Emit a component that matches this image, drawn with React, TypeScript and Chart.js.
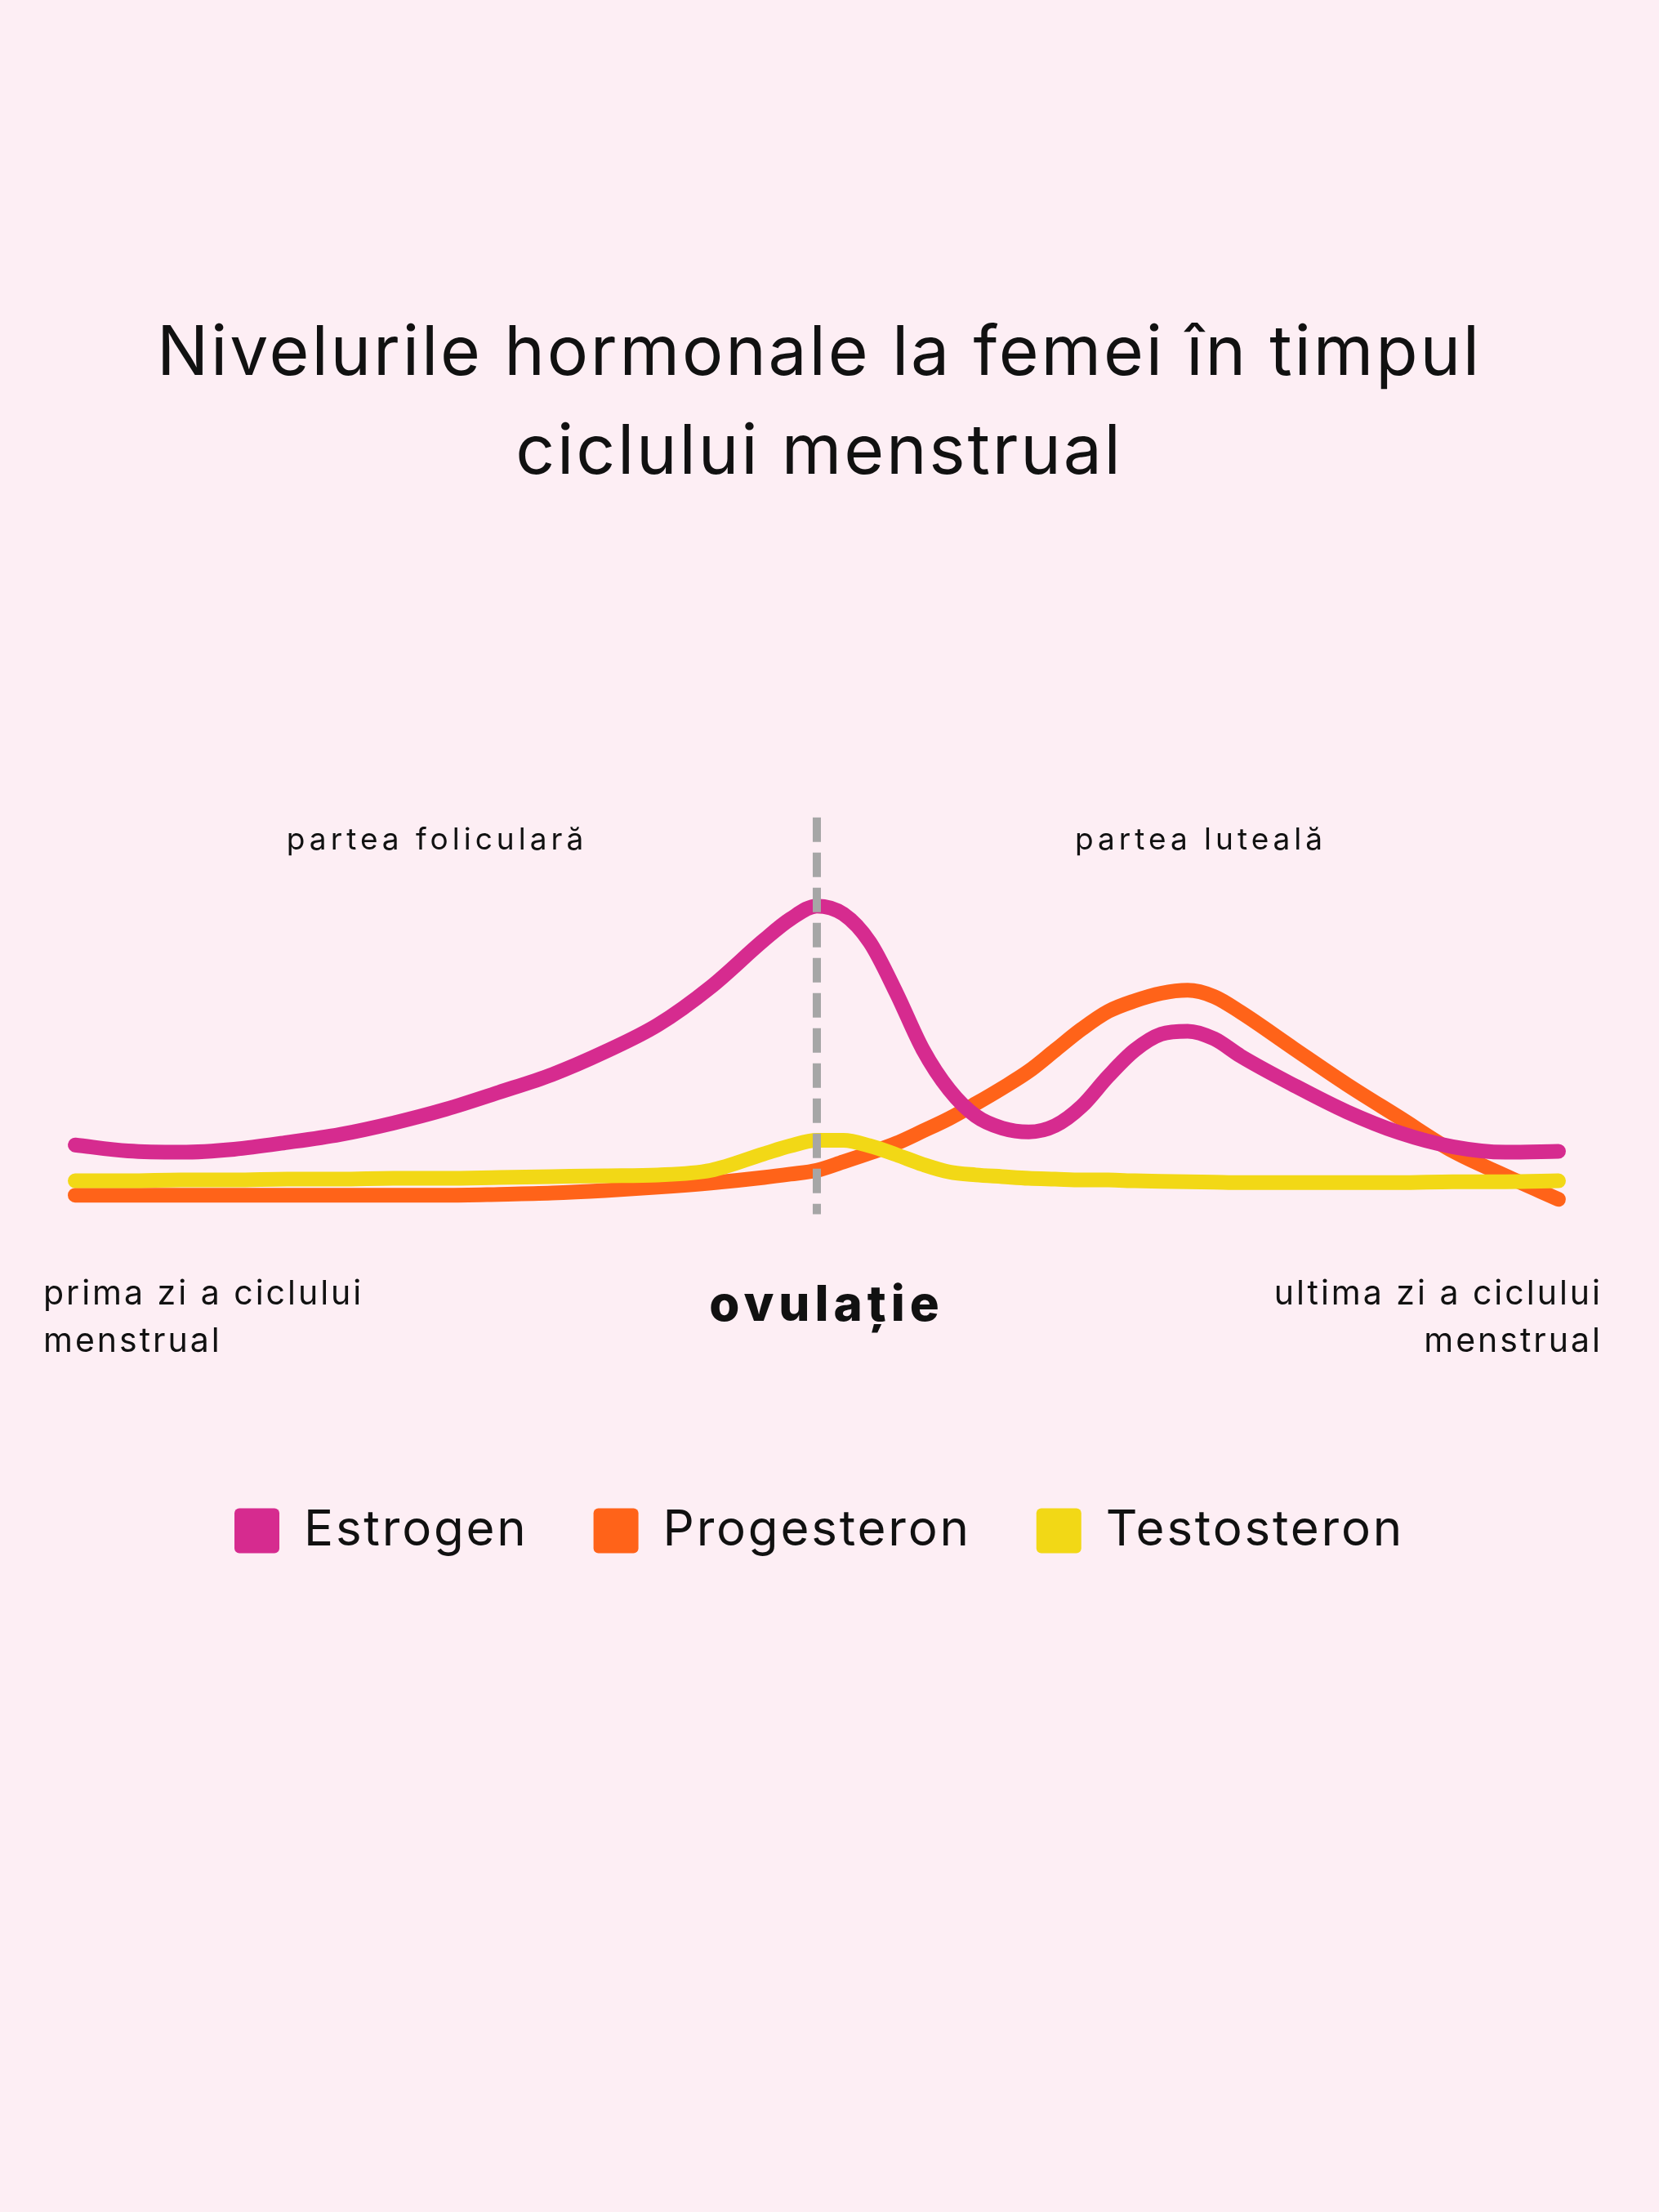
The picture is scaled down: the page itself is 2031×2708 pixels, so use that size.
import React, { useEffect, useRef } from 'react';
import { Chart, registerables } from 'chart.js';

Chart.register(...registerables);

// ---- data ----
const days = [0, 1, 2, 3, 4, 5, 6, 7, 8, 9, 10, 11, 12, 13, 13.5, 14, 14.5, 15, 15.5, 16, 16.5, 17, 17.5, 18, 18.5, 19, 19.5, 20, 20.5, 21, 21.5, 22, 23, 24, 25, 26, 27, 28];
const estrogen = [20.2, 18.8, 18.5, 19.2, 20.8, 22.7, 25.4, 28.7, 32.7, 36.9, 42.3, 48.7, 57.7, 68.8, 73.8, 76.9, 75.0, 68.3, 56.3, 42.9, 33.3, 27.1, 24.2, 23.3, 24.8, 29.4, 36.5, 42.7, 46.5, 47.2, 45.4, 41.3, 34.4, 28.1, 23.1, 19.8, 18.5, 18.7];
const progesteron = [8.3, 8.3, 8.3, 8.3, 8.3, 8.3, 8.3, 8.3, 8.5, 8.8, 9.4, 10.2, 11.2, 12.5, 13.3, 14.2, 16.2, 18.3, 20.6, 23.5, 26.5, 30.0, 33.7, 37.7, 42.7, 47.7, 51.9, 54.4, 56.2, 56.9, 55.4, 51.7, 43.1, 34.6, 26.7, 18.8, 12.9, 7.3];
const testosteron = [11.7, 11.7, 11.9, 11.9, 12.1, 12.1, 12.3, 12.3, 12.5, 12.7, 12.9, 13.1, 14.2, 18.1, 20.0, 21.3, 21.3, 20.0, 17.9, 15.6, 13.8, 13.1, 12.7, 12.3, 12.1, 11.9, 11.9, 11.7, 11.6, 11.5, 11.4, 11.3, 11.3, 11.3, 11.3, 11.5, 11.5, 11.7];
const ovulationDay = 14;
const ovulationMarker = [97.9, 3.8];

const seriesNames = ['Estrogen', 'Progesteron', 'Testosteron'];
const seriesColors = ['#D62B8F', '#FF6319', '#F2D816'];
const markerColor = '#A6A6A6';

const titleLines = ['Nivelurile hormonale la femei în timpul', 'ciclului menstrual'];
const phaseLabels = ['partea foliculară', 'partea luteală'];
const startLabel = ['prima zi a ciclului', 'menstrual'];
const endLabel = ['ultima zi a ciclului', 'menstrual'];
const ovulationLabel = 'ovulație';

const FONT = "Inter, 'Noto Sans', sans-serif";
const BG = '#FDEEF4';
const TEXT = '#111111';

const toPoints = (vals: number[]) => vals.map((v, i) => ({ x: days[i], y: v }));

const spacingPlugin = {
  id: 'letterSpacing',
  beforeUpdate(chart: any) {
    (chart.ctx as any).letterSpacing = '2.8px';
  },
  beforeDraw(chart: any) {
    const { ctx, width, height } = chart;
    ctx.save();
    ctx.fillStyle = BG;
    ctx.fillRect(0, 0, width, height);
    ctx.restore();
    (ctx as any).letterSpacing = '2.8px';
  },
};

const textPlugin = {
  id: 'annotText',
  afterDraw(chart: any) {
    const ctx = chart.ctx;
    ctx.save();
    ctx.fillStyle = TEXT;
    ctx.textBaseline = 'alphabetic';

    // phase labels
    ctx.font = `400 37px ${FONT}`;
    (ctx as any).letterSpacing = '5px';
    ctx.textAlign = 'center';
    ctx.fillText(phaseLabels[0], 535, 1040);
    ctx.fillText(phaseLabels[1], 1470, 1040);

    // start / end labels
    ctx.font = `400 41px ${FONT}`;
    (ctx as any).letterSpacing = '3px';
    ctx.textAlign = 'left';
    ctx.fillText(startLabel[0], 53, 1597);
    ctx.fillText(startLabel[1], 53, 1655);
    ctx.textAlign = 'right';
    ctx.fillText(endLabel[0], 1962, 1597);
    ctx.fillText(endLabel[1], 1962, 1655);

    // ovulation
    ctx.font = `800 60px ${FONT}`;
    (ctx as any).letterSpacing = '6px';
    ctx.textAlign = 'center';
    ctx.fillText(ovulationLabel, 1012, 1617);
    ctx.restore();
  },
};

export default function App() {
  const ref = useRef<HTMLCanvasElement | null>(null);

  useEffect(() => {
    if (!ref.current) return;
    const chart = new Chart(ref.current, {
      type: 'line',
      data: {
        datasets: [
          {
            label: seriesNames[0],
            data: toPoints(estrogen),
            borderColor: seriesColors[0],
            backgroundColor: seriesColors[0],
            order: 1,
          },
          {
            label: seriesNames[1],
            data: toPoints(progesteron),
            borderColor: seriesColors[1],
            backgroundColor: seriesColors[1],
            order: 3,
          },
          {
            label: seriesNames[2],
            data: toPoints(testosteron),
            borderColor: seriesColors[2],
            backgroundColor: seriesColors[2],
            order: 2,
          },
          {
            label: 'ovulație',
            data: ovulationMarker.map((v) => ({ x: ovulationDay, y: v })),
            borderColor: markerColor,
            backgroundColor: markerColor,
            borderWidth: 10,
            borderDash: [30, 13],
            borderCapStyle: 'butt',
            cubicInterpolationMode: 'default',
            tension: 0,
            order: 0,
          } as any,
        ],
      },
      options: {
        responsive: false,
        animation: false,
        events: [],
        layout: { padding: { top: 0, left: 80, right: 105, bottom: 794 } },
        elements: {
          line: {
            borderWidth: 18,
            borderCapStyle: 'round',
            borderJoinStyle: 'round',
            cubicInterpolationMode: 'monotone',
            fill: false,
          },
          point: { radius: 0, hoverRadius: 0 },
        },
        scales: {
          x: {
            type: 'linear',
            min: -0.185,
            max: 28.278,
            display: true,
            grid: { display: false },
            border: { display: false },
            ticks: { display: false },
            afterFit: (scale: any) => {
              scale.height = 258;
            },
          },
          y: {
            type: 'linear',
            min: 0,
            max: 100,
            display: false,
          },
        },
        plugins: {
          tooltip: { enabled: false },
          title: {
            display: true,
            text: titleLines,
            color: TEXT,
            font: { family: FONT, size: 84, weight: '400', lineHeight: 1.44 },
            padding: { top: 373, bottom: 375 },
          },
          legend: {
            display: true,
            position: 'bottom',
            labels: {
              color: TEXT,
              font: { family: FONT, size: 60 },
              boxWidth: 55,
              boxHeight: 55,
              padding: 80,
              useBorderRadius: true,
              borderRadius: 6,
              generateLabels: (c: any) => {
                const items = Chart.defaults.plugins.legend.labels.generateLabels(c);
                return items
                  .filter((it: any) => it.datasetIndex < seriesNames.length)
                  .sort((a: any, b: any) => a.datasetIndex - b.datasetIndex)
                  .map((it: any) => ({
                    ...it,
                    fillStyle: seriesColors[it.datasetIndex],
                    strokeStyle: 'rgba(0,0,0,0)',
                    lineWidth: 0,
                    lineDash: [],
                  }));
              },
            },
          },
        },
      },
      plugins: [spacingPlugin, textPlugin],
    } as any);
    return () => chart.destroy();
  }, []);

  return (
    <div style={{ position: 'fixed', left: 0, top: 0, width: 2031, height: 2708, background: BG }}>
      <canvas ref={ref} width={2031} height={2708} style={{ display: 'block' }} />
    </div>
  );
}
